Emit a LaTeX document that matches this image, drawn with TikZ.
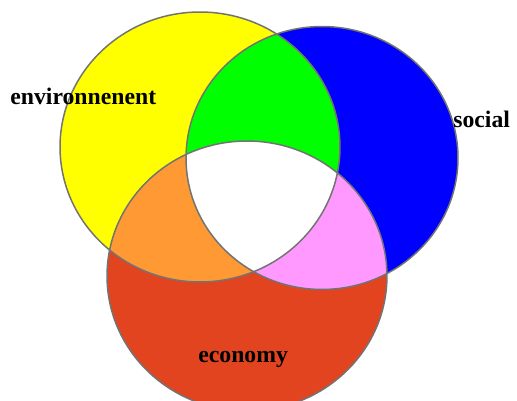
\documentclass[tikz,border=0pt]{standalone}
\usepackage{fontspec}
\setmainfont{Liberation Serif}

\definecolor{envyellow}{RGB}{255,255,0}
\definecolor{socblue}{RGB}{0,0,255}
\definecolor{ecored}{RGB}{227,68,32}
\definecolor{mixgreen}{RGB}{0,255,0}
\definecolor{mixorange}{RGB}{255,153,51}
\definecolor{mixpink}{RGB}{255,153,255}

\begin{document}
\begin{tikzpicture}[x=0.02cm, y=-0.02cm,
    rim/.style={draw=black!55, line width=0.85pt},
    word/.style={font=\fontsize{13.5}{16}\selectfont\bfseries, inner sep=0pt, anchor=base west}]
    \clip (0,0) rectangle (517,401);

    \def\envring{(200,147) ellipse [x radius=2.8cm, y radius=2.7cm]}
    \def\socring{(322,158) ellipse [x radius=2.72cm, y radius=2.63cm]}
    \def\ecoring{(247,276) ellipse [x radius=2.8cm, y radius=2.7cm]}

    \fill[envyellow] \envring;
    \fill[socblue] \socring;
    \fill[ecored] \ecoring;

    % overlaps
    \begin{scope}
        \clip \envring;
        \fill[mixgreen] \socring;
        \fill[mixorange] \ecoring;
    \end{scope}
    \begin{scope}
        \clip \socring;
        \fill[mixpink] \ecoring;
    \end{scope}
    \begin{scope}
        \clip \envring;
        \clip \socring;
        \fill[white] \ecoring;
    \end{scope}

    \draw[rim] \envring;
    \draw[rim] \socring;
    \draw[rim] \ecoring;

    \node[word] (env) at (10,105) {environnenent};
    \node[word] (soc) at (453,128) {social};
    \node[word] (eco) at (198,363) {economy};
\end{tikzpicture}
\end{document}
